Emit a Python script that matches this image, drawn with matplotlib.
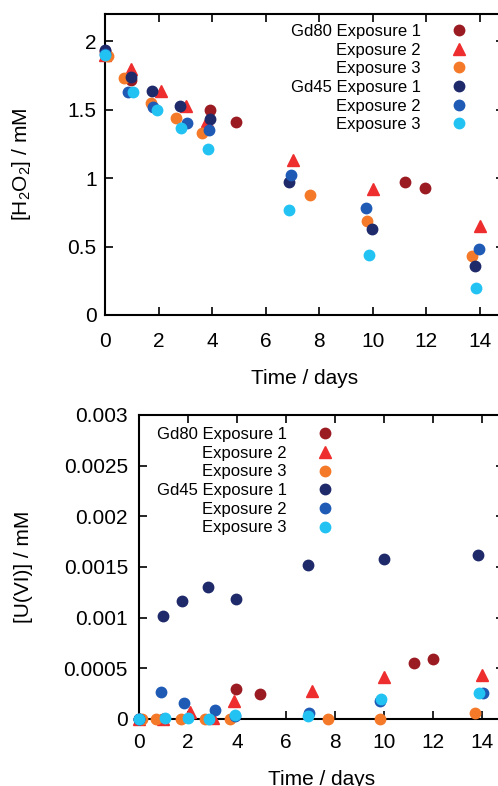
import matplotlib
matplotlib.use("Agg")
import matplotlib.pyplot as plt

plt.rcParams.update({
    'font.family': ['Liberation Sans', 'DejaVu Sans'],
    'mathtext.default': 'regular',
    'axes.linewidth': 1.5,
    'xtick.direction': 'in',
    'ytick.direction': 'in',
    'xtick.top': True,
    'ytick.right': True,
    'xtick.major.size': 5.5,
    'ytick.major.size': 5.5,
    'xtick.major.width': 1.2,
    'ytick.major.width': 1.2,
    'xtick.labelsize': 15,
    'ytick.labelsize': 15,
    'axes.labelsize': 15,
})

# --- H2O2 data ---
h_gd80_e1_t = [0, 0.96, 3.92, 4.91, 11.19, 11.95]
h_gd80_e1_c = [1.93, 1.72, 1.50, 1.41, 0.97, 0.93]
h_gd80_e2_t = [0, 0.96, 2.08, 3.01, 3.8, 7.03, 10.01, 13.99]
h_gd80_e2_c = [1.90, 1.80, 1.64, 1.53, 1.42, 1.13, 0.92, 0.65]
h_gd80_e3_t = [0.12, 0.71, 1.71, 2.67, 3.64, 7.66, 9.8, 13.71]
h_gd80_e3_c = [1.89, 1.73, 1.55, 1.44, 1.33, 0.88, 0.69, 0.43]
h_gd45_e1_t = [0, 0.96, 1.77, 2.81, 3.92, 6.87, 9.96, 13.81]
h_gd45_e1_c = [1.94, 1.74, 1.64, 1.53, 1.43, 0.97, 0.63, 0.36]
h_gd45_e2_t = [0, 0.85, 1.8, 3.08, 3.87, 6.93, 9.76, 13.97]
h_gd45_e2_c = [1.91, 1.63, 1.52, 1.40, 1.35, 1.02, 0.78, 0.48]
h_gd45_e3_t = [0, 1.06, 1.95, 2.82, 3.86, 6.87, 9.84, 13.84]
h_gd45_e3_c = [1.90, 1.63, 1.50, 1.37, 1.21, 0.77, 0.44, 0.20]

# --- U(VI) data ---
u_gd80_e1_t = [0, 0.96, 3.96, 4.94, 11.24, 12.0]
u_gd80_e1_c = [0, 0, 0.0003, 0.00025, 0.00055, 0.00059]
u_gd80_e2_t = [0, 0.96, 2.07, 3.01, 3.89, 7.05, 10.02, 14.02]
u_gd80_e2_c = [0, 0, 0.00007, 0.00001, 0.00018, 0.00028, 0.00041, 0.00043]
u_gd80_e3_t = [0.12, 0.71, 1.73, 2.69, 3.71, 7.7, 9.84, 13.73]
u_gd80_e3_c = [0, 0, 0, 0, 0, 0, 0, 0.00006]
u_gd45_e1_t = [0, 0.96, 1.77, 2.82, 3.96, 6.91, 10.01, 13.82]
u_gd45_e1_c = [0, 0.00102, 0.00116, 0.0013, 0.00118, 0.00152, 0.00158, 0.00162]
u_gd45_e2_t = [0, 0.89, 1.84, 3.1, 3.9, 6.95, 9.82, 14.04]
u_gd45_e2_c = [0, 0.00027, 0.00016, 0.00009, 0.00003, 0.00006, 0.00018, 0.00026]
u_gd45_e3_t = [0, 1.08, 2.0, 2.86, 3.93, 6.89, 9.87, 13.87]
u_gd45_e3_c = [0, 0.00001, 0.00001, 0.0, 0.00004, 0.00003, 0.0002, 0.00026]

labels = ["Gd80 Exposure 1", "Exposure 2", "Exposure 3",
          "Gd45 Exposure 1", "Exposure 2", "Exposure 3"]
colors = ["#9b1b22", "#ee2e2e", "#f47a2a", "#1f2a6a", "#1f5bb5", "#22c3f3"]
markers = ["o", "^", "o", "o", "o", "o"]

x_ticks = [0, 2, 4, 6, 8, 10, 12, 14]
h_ticks = [0, 0.5, 1, 1.5, 2]
h_tick_labels = ["0", "0.5", "1", "1.5", "2"]
u_ticks = [0, 0.0005, 0.001, 0.0015, 0.002, 0.0025, 0.003]
u_tick_labels = ["0", "0.0005", "0.001", "0.0015", "0.002", "0.0025", "0.003"]

h_series = [(h_gd80_e1_t, h_gd80_e1_c), (h_gd80_e2_t, h_gd80_e2_c), (h_gd80_e3_t, h_gd80_e3_c),
            (h_gd45_e1_t, h_gd45_e1_c), (h_gd45_e2_t, h_gd45_e2_c), (h_gd45_e3_t, h_gd45_e3_c)]
u_series = [(u_gd80_e1_t, u_gd80_e1_c), (u_gd80_e2_t, u_gd80_e2_c), (u_gd80_e3_t, u_gd80_e3_c),
            (u_gd45_e1_t, u_gd45_e1_c), (u_gd45_e2_t, u_gd45_e2_c), (u_gd45_e3_t, u_gd45_e3_c)]

W, H = 498, 786
fig = plt.figure(figsize=(W / 100, H / 100), dpi=100)


def px_axes(left, top, right, bottom):
    return fig.add_axes([left / W, 1 - bottom / H, (right - left) / W, (bottom - top) / H])


# right spines sit just past the picture's edge, as in the original
ax1 = px_axes(105, 14, 504, 315)
ax2 = px_axes(139, 415, 504, 719)

for ax, series in [(ax1, h_series), (ax2, u_series)]:
    for (t, c), lab, col, m in zip(series, labels, colors, markers):
        ms = 8 if m == "^" else 7.5
        ax.plot(t, c, linestyle='none', marker=m, markersize=ms,
                color=col, markeredgecolor=col, label=lab, clip_on=False, zorder=3)
    ax.set_xlim(0, 14.9)
    ax.set_xticks(x_ticks)
    ax.set_xticklabels([str(v) for v in x_ticks])
    ax.set_xlabel("Time / days", labelpad=13)

ax1.tick_params(axis='x', pad=12)
ax1.tick_params(axis='y', pad=6)
ax2.tick_params(axis='x', pad=10)
ax2.tick_params(axis='y', pad=8)

ax1.set_ylim(0, 2.2)
ax1.set_yticks(h_ticks)
ax1.set_yticklabels(h_tick_labels)
ax1.set_ylabel("[H$_2$O$_2$] / mM")
ax1.yaxis.set_label_coords(-0.18, 0.5)

ax2.set_ylim(0, 0.003)
ax2.set_yticks(u_ticks)
ax2.set_yticklabels(u_tick_labels)
ax2.set_ylabel("[U(VI)] / mM")
ax2.yaxis.set_label_coords(-0.29, 0.5)

leg_kw = dict(markerfirst=False, frameon=False, fontsize=12, loc='upper right',
              borderpad=0, borderaxespad=0, handlelength=1.0, handletextpad=1.8,
              labelspacing=0.22, numpoints=1)
ax1.legend(bbox_to_anchor=((467.6 - 105) / 399, 0.967), **leg_kw)
ax2.legend(bbox_to_anchor=((333.6 - 139) / 365, 0.96), **leg_kw)

fig.savefig("out.png", dpi=100)
